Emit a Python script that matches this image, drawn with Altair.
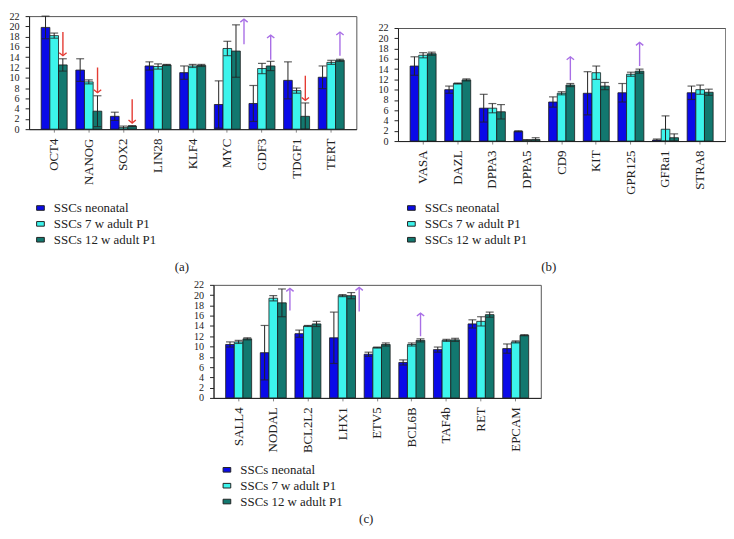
import altair as alt
import pandas as pd

series_names = ["SSCs neonatal", "SSCs 7 w adult P1", "SSCs 12 w adult P1"]
series_colors = ["#0A0AE8", "#3CF4EC", "#12786F"]

genes_a = ["OCT4", "NANOG", "SOX2", "LIN28", "KLF4", "MYC", "GDF3", "TDGF1", "TERT"]
neo_a = [19.8, 11.5, 2.5, 12.3, 11.0, 4.8, 5.0, 9.5, 10.1]
neo_a_err = [2.2, 2.2, 0.8, 0.8, 1.3, 4.6, 3.5, 3.6, 2.2]
w7_a = [18.2, 9.2, 0.3, 12.2, 12.3, 15.7, 11.8, 7.5, 13.0]
w7_a_err = [0.5, 0.4, 0.3, 0.5, 0.3, 1.4, 1.0, 0.5, 0.4]
w12_a = [12.5, 3.5, 0.6, 12.5, 12.4, 15.2, 12.3, 2.5, 13.4]
w12_a_err = [1.2, 3.0, 0.1, 0.1, 0.2, 5.1, 0.9, 2.6, 0.2]

genes_b = ["VASA", "DAZL", "DPPA3", "DPPA5", "CD9", "KIT", "GPR125", "GFRa1", "STRA8"]
neo_b = [14.6, 10.0, 6.4, 1.9, 7.6, 9.3, 9.4, 0.2, 9.4]
neo_b_err = [1.8, 0.7, 2.7, 0.1, 1.0, 4.2, 1.8, 0.2, 1.3]
w7_b = [16.7, 11.2, 6.4, 0.2, 9.3, 13.3, 13.0, 2.3, 10.0]
w7_b_err = [0.5, 0.1, 0.9, 0.1, 0.3, 1.3, 0.4, 2.6, 0.9]
w12_b = [17.0, 11.9, 5.7, 0.3, 10.9, 10.7, 13.6, 0.65, 9.5]
w12_b_err = [0.3, 0.2, 1.4, 0.35, 0.3, 0.7, 0.4, 0.75, 0.6]

genes_c = ["SALL4", "NODAL", "BCL2L2", "LHX1", "ETV5", "BCL6B", "TAF4b", "RET", "EPCAM"]
neo_c = [10.4, 8.8, 12.5, 11.7, 8.5, 6.9, 9.4, 14.4, 9.6]
neo_c_err = [0.5, 5.3, 0.7, 5.0, 0.4, 0.5, 0.5, 0.8, 0.9]
w7_c = [10.9, 19.4, 14.0, 19.9, 9.8, 10.4, 11.2, 14.9, 10.9]
w7_c_err = [0.3, 0.5, 0.1, 0.2, 0.1, 0.3, 0.2, 0.9, 0.2]
w12_c = [11.5, 18.5, 14.4, 19.9, 10.4, 11.2, 11.3, 16.2, 12.2]
w12_c_err = [0.2, 2.7, 0.5, 0.6, 0.3, 0.3, 0.3, 0.5, 0.1]

# arrows: gene, tail value, head value, beside the error bar?
arrow_genes_a = ["OCT4", "NANOG", "SOX2", "TDGF1", "MYC", "GDF3", "TERT"]
arrow_tail_a = [18.9, 12.0, 5.8, 10.4, 16.5, 13.5, 14.3]
arrow_head_a = [14.3, 7.1, 1.2, 5.6, 21.4, 18.3, 18.9]
arrow_beside_a = [False, False, False, False, True, False, False]

arrow_genes_b = ["CD9", "GPR125"]
arrow_tail_b = [11.8, 14.6]
arrow_head_b = [16.4, 19.2]
arrow_beside_b = [False, False]

arrow_genes_c = ["NODAL", "LHX1", "BCL6B"]
arrow_tail_c = [17.0, 16.8, 12.0]
arrow_head_c = [21.3, 21.5, 16.5]
arrow_beside_c = [True, True, False]

y_ticks = list(range(0, 23, 2))
SERIF = "Liberation Serif"
W, H = 330, 114
BAR_W = 8.8


def panel(genes, vals, errs, a_genes, a_tail, a_head, a_beside, caption,
          leg_x, leg_y, cap_x, cap_y):
    rows = []
    for s, v, e in zip(series_names, vals, errs):
        for g, vv, ee in zip(genes, v, e):
            rows.append({"gene": g, "series": s, "value": vv,
                         "lo": max(vv - ee, 0), "hi": vv + ee})
    df = pd.DataFrame(rows)
    arr = pd.DataFrame({"gene": a_genes, "tail": a_tail, "head": a_head,
                        "beside": a_beside})
    arr["up"] = arr["head"] > arr["tail"]

    xscale = alt.Scale(paddingInner=0.25, paddingOuter=0.35)
    xaxis = alt.Axis(title=None, labelAngle=-90, labelFont=SERIF,
                     labelFontSize=13, labelColor="#222",
                     domainColor="#222", tickColor="#888",
                     tickSize=3, labelPadding=6, labelAlign="right",
                     labelBaseline="middle", labelLimit=0)
    yscale = alt.Scale(domain=[0, 22], nice=False)
    yaxis = alt.Axis(title=None, values=y_ticks, labelFont=SERIF,
                     labelFontSize=10.2, labelColor="#222",
                     labelOverlap=False, labelFlush=False,
                     domainColor="#222", tickColor="#222",
                     tickSize=4, labelPadding=6, grid=False)

    def X():
        return alt.X("gene:N", sort=genes, scale=xscale, axis=xaxis)

    def Y(field):
        return alt.Y(field, scale=yscale, axis=yaxis)

    xoff = alt.XOffset("series:N", sort=series_names,
                       scale=alt.Scale(paddingInner=0, paddingOuter=0))
    color = alt.Color("series:N", sort=series_names,
                      scale=alt.Scale(domain=series_names, range=series_colors),
                      legend=alt.Legend(title=None, orient="none",
                                        legendX=leg_x, legendY=leg_y,
                                        labelFont=SERIF, labelFontSize=13,
                                        labelColor="#222",
                                        symbolType="M-1,-0.6H1V0.6H-1Z",
                                        symbolSize=60, symbolStrokeColor="#222",
                                        symbolStrokeWidth=1, rowPadding=2,
                                        labelOffset=7, padding=0))

    base = alt.Chart(df)
    bars = base.mark_bar(stroke="#1a1a1a", strokeWidth=0.8).encode(
        x=X(), xOffset=xoff, y=Y("value:Q"), color=color)
    errs_rule = base.mark_rule(color="#222", strokeWidth=1).encode(
        x=X(), xOffset=xoff, y=Y("lo:Q"), y2="hi:Q")
    cap_hi = base.mark_tick(color="#222", thickness=1.2, size=8).encode(
        x=X(), xOffset=xoff, y=Y("hi:Q"))
    cap_lo = base.mark_tick(color="#222", thickness=1.2, size=8).encode(
        x=X(), xOffset=xoff, y=Y("lo:Q"))

    layers = [bars, errs_rule, cap_hi, cap_lo]
    for beside, off in [(False, BAR_W), (True, BAR_W + 8)]:
        for up, col in [(True, "#A96FE6"), (False, "#E53B33")]:
            sub = arr[(arr["beside"] == beside) & (arr["up"] == up)]
            if len(sub) == 0:
                continue
            sc = alt.Chart(sub)
            shaft = sc.mark_rule(color=col, strokeWidth=1.4, xOffset=off).encode(
                x=X(), y=Y("tail:Q"), y2="head:Q")
            shape = "M-1,0.8L0,0L1,0.8" if up else "M-1,-0.8L0,0L1,-0.8"
            head = sc.mark_point(shape=shape, filled=False, stroke=col,
                                 strokeWidth=1.4, size=55, opacity=1,
                                 xOffset=off).encode(
                x=X(), y=Y("head:Q"))
            layers += [shaft, head]

    cap = alt.Chart(pd.DataFrame({"t": [caption]})).mark_text(
        font=SERIF, fontSize=13, color="#222").encode(
        text="t:N", x=alt.value(cap_x), y=alt.value(cap_y))
    layers.append(cap)

    return alt.layer(*layers).properties(width=W, height=H)


pa = panel(genes_a, [neo_a, w7_a, w12_a], [neo_a_err, w7_a_err, w12_a_err],
           arrow_genes_a, arrow_tail_a, arrow_head_a, arrow_beside_a, "(a)",
           5, 187, 154, 253)
pb = panel(genes_b, [neo_b, w7_b, w12_b], [neo_b_err, w7_b_err, w12_b_err],
           arrow_genes_b, arrow_tail_b, arrow_head_b, arrow_beside_b, "(b)",
           7, 187, 152, 241)
pc = panel(genes_c, [neo_c, w7_c, w12_c], [neo_c_err, w7_c_err, w12_c_err],
           arrow_genes_c, arrow_tail_c, arrow_head_c, arrow_beside_c, "(c)",
           7, 180, 154, 236)

spacer = alt.Chart(pd.DataFrame({"a": [0]}),
                   view=alt.ViewBackground(strokeOpacity=0)).mark_point(
    opacity=0).properties(width=W, height=6)
pb_shifted = alt.vconcat(spacer, pb, spacing=0)

top = alt.hconcat(pa, pb_shifted, spacing=20).resolve_scale(color="independent")
chart = alt.vconcat(top, pc, spacing=4, center=True).resolve_scale(
    color="independent").configure(padding=0).configure_view(
    stroke="#555", strokeWidth=1).configure_legend(
    padding=0, labelFont=SERIF).configure_axisY(labelOverlap=False)

chart.save("out.html", embed_options={"renderer": "svg", "actions": False})
